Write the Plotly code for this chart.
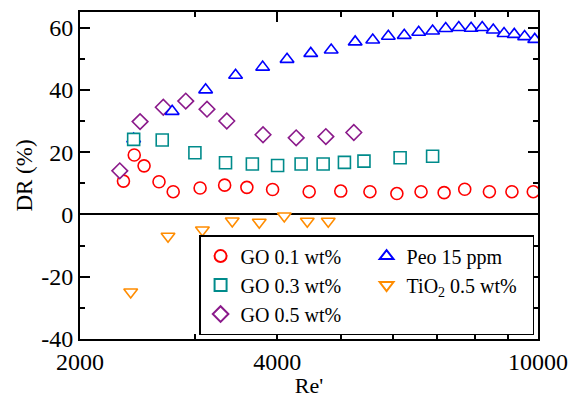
import plotly.graph_objects as go

# GO 0.1 wt%
re_go01 = [2330, 2420, 2505, 2640, 2775, 3050, 3325, 3595, 3935, 4475, 5000, 5540, 6090, 6630, 7190, 7730, 8430, 9125, 9835]
dr_go01 = [10.7, 19.1, 15.6, 10.5, 7.3, 8.5, 9.4, 8.7, 8.0, 7.3, 7.5, 7.3, 6.7, 7.3, 7.0, 8.1, 7.3, 7.3, 7.3]

# GO 0.3 wt%
re_go03 = [2415, 2670, 2995, 3335, 3665, 4005, 4350, 4700, 5065, 5425, 6160, 6905]
dr_go03 = [24.1, 23.9, 19.8, 16.6, 16.2, 15.7, 16.2, 16.2, 16.7, 17.1, 18.2, 18.7]

# GO 0.5 wt%
re_go05 = [2300, 2470, 2680, 2900, 3125, 3350, 3805, 4275, 4745, 5235]
dr_go05 = [14.0, 29.8, 34.4, 36.4, 33.8, 30.0, 25.6, 24.6, 25.0, 26.3]

# Peo 15 ppm
re_peo = [2415, 2765, 3110, 3455, 3800, 4140, 4500, 4835, 5260, 5595, 5910, 6250, 6575, 6905,
          7230, 7570, 7905, 8220, 8545, 8875, 9200, 9540, 9885]
dr_peo = [24.2, 33.1, 40.0, 44.7, 47.3, 49.8, 51.7, 52.8, 55.4, 56.0, 57.2, 57.5, 58.5, 58.9,
          59.7, 60.0, 59.8, 60.0, 59.2, 58.1, 57.8, 57.1, 56.2]

# TiO2 0.5 wt%
re_tio2 = [2390, 2725, 3075, 3415, 3755, 4100, 4445, 4785]
dr_tio2 = [-24.9, -7.0, -5.0, -2.1, -2.5, -0.5, -2.2, -2.2]

x_tickvals = [2000, 4000, 10000]
x_ticktext = ["2000", "4000", "10000"]
x_minorvals = [3000, 5000, 6000, 7000, 8000, 9000]
y_tickvals = [-40, -20, 0, 20, 40, 60]
y_ticktext = ["-40", "-20", "0", "20", "40", "60"]

FONT = "Liberation Serif"

def series(x, y, name, symbol, color, rank):
    return go.Scatter(
        x=x, y=y, name=name, mode="markers", legendrank=rank,
        marker=dict(symbol=symbol, size=12, color="white",
                    line=dict(color=color, width=1.6)),
    )

fig = go.Figure()
fig.add_trace(series(re_go01, dr_go01, "GO 0.1 wt%", "circle", "#ff0000", 1))
fig.add_trace(series(re_go05, dr_go05, "GO 0.5 wt%", "diamond", "#8b1a8b", 5))
fig.add_trace(series(re_peo, dr_peo, "Peo 15 ppm", "triangle-up", "#0000ff", 2))
fig.add_trace(series(re_go03, dr_go03, "GO 0.3 wt%", "square", "#008b8b", 3))
fig.add_trace(series(re_tio2, dr_tio2, "TiO<sub>2</sub> 0.5 wt%", "triangle-down", "#ff8c00", 4))

fig.update_layout(
    width=579, height=398,
    margin=dict(l=80, r=41, t=12, b=59),
    paper_bgcolor="white", plot_bgcolor="white",
    font=dict(family=FONT, color="black", size=22),
    showlegend=True,
    legend=dict(
        orientation="h", x=0.26, y=0.012, xanchor="left", yanchor="bottom",
        entrywidth=121, entrywidthmode="pixels",
        bgcolor="white", bordercolor="black", borderwidth=1.5,
        font=dict(family=FONT, size=20, color="black"),
        traceorder="normal", itemsizing="constant",
    ),
)

fig.update_xaxes(
    type="log", range=[3.30103, 4.0],
    tickvals=x_tickvals, ticktext=x_ticktext,
    ticks="inside", ticklen=10, tickwidth=1.5, tickcolor="black",
    minor=dict(tickvals=x_minorvals, ticks="inside", ticklen=5, tickwidth=1.5, tickcolor="black"),
    showline=True, linewidth=2, linecolor="black", mirror="ticks",
    showgrid=False, zeroline=False, automargin=False,
    tickfont=dict(size=24, family=FONT),
    title=dict(text="Re'", font=dict(size=22, family=FONT), standoff=0),
)
fig.update_yaxes(
    range=[-40, 65], tickvals=y_tickvals, ticktext=y_ticktext,
    ticks="inside", ticklen=10, tickwidth=1.5, tickcolor="black",
    minor=dict(dtick=10, ticks="inside", ticklen=5, tickwidth=1.5, tickcolor="black"),
    showline=True, linewidth=2, linecolor="black", mirror="ticks",
    showgrid=False, zeroline=True, zerolinecolor="black", zerolinewidth=1.5,
    automargin=False,
    tickfont=dict(size=24, family=FONT),
    title=dict(text="DR (%)", font=dict(size=23, family=FONT), standoff=2),
)

fig.write_html("out.html", config={"displayModeBar": False},
               post_script="document.body.style.margin='0px';")
